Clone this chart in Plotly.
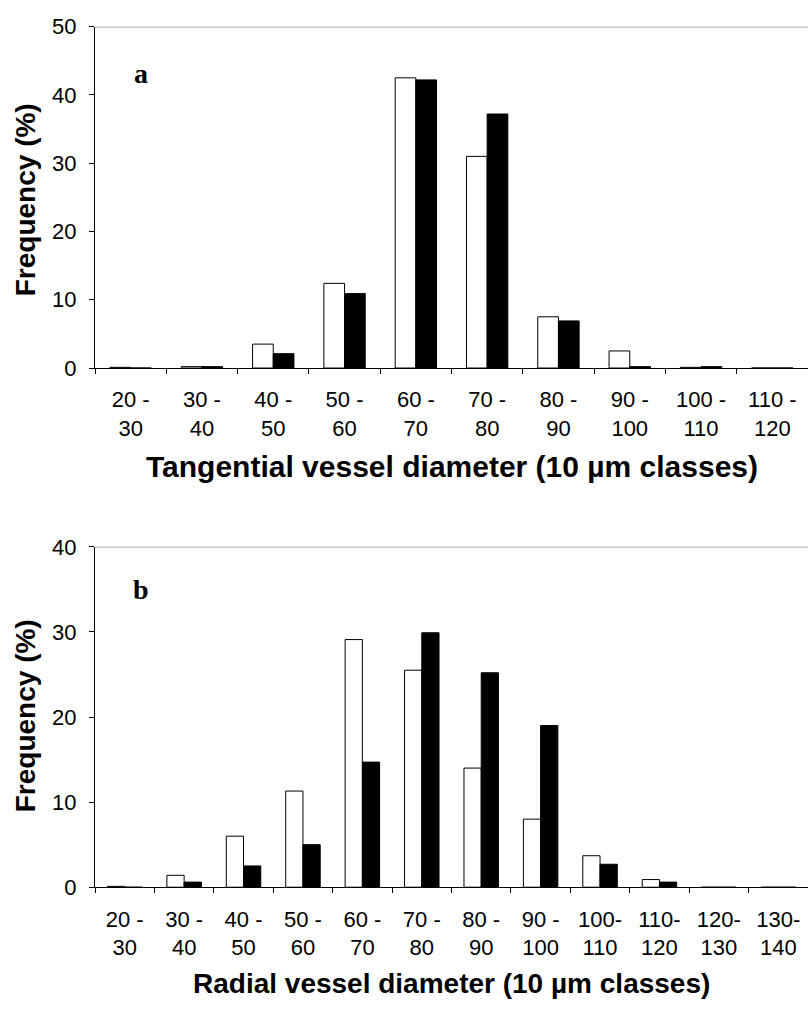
import plotly.graph_objects as go

W, H = 808, 1016

# Panel a: tangential vessel diameter
cats_a = ["20 -<br>30", "30 -<br>40", "40 -<br>50", "50 -<br>60", "60 -<br>70",
          "70 -<br>80", "80 -<br>90", "90 -<br>100", "100 -<br>110", "110 -<br>120"]
white_a = [0.1, 0.2, 3.5, 12.4, 42.5, 31.0, 7.5, 2.5, 0.1, 0.0]
black_a = [0.0, 0.2, 2.1, 10.9, 42.2, 37.2, 6.9, 0.2, 0.2, 0.0]

# Panel b: radial vessel diameter
cats_b = ["20 -<br>30", "30 -<br>40", "40 -<br>50", "50 -<br>60", "60 -<br>70",
          "70 -<br>80", "80 -<br>90", "90 -<br>100", "100-<br>110", "110-<br>120",
          "120-<br>130", "130-<br>140"]
white_b = [0.1, 1.4, 6.0, 11.3, 29.1, 25.5, 14.0, 8.0, 3.7, 0.9, 0.0, 0.0]
black_b = [0.0, 0.6, 2.5, 5.0, 14.7, 29.9, 25.2, 19.0, 2.7, 0.6, 0.0, 0.0]

fig = go.Figure()

def px_y(p):
    return 1 - p / H

x0 = 95 / W

fig.add_trace(go.Bar(x=list(range(len(cats_a))), y=white_a, marker=dict(color="white", line=dict(color="black", width=1)),
                     xaxis="x", yaxis="y", showlegend=False))
fig.add_trace(go.Bar(x=list(range(len(cats_a))), y=black_a, marker=dict(color="black", line=dict(color="black", width=1)),
                     xaxis="x", yaxis="y", showlegend=False))
fig.add_trace(go.Bar(x=list(range(len(cats_b))), y=white_b, marker=dict(color="white", line=dict(color="black", width=1)),
                     xaxis="x2", yaxis="y2", showlegend=False))
fig.add_trace(go.Bar(x=list(range(len(cats_b))), y=black_b, marker=dict(color="black", line=dict(color="black", width=1)),
                     xaxis="x2", yaxis="y2", showlegend=False))

tickfont = dict(family="Liberation Sans, Arial", size=22, color="black")
titlefont = dict(family="Liberation Sans, Arial", size=28, color="black")

common_x = dict(showline=True, linecolor="black", linewidth=1, ticks="", ticklabelstandoff=12,
                tickfont=tickfont, showgrid=False, zeroline=False)
common_y = dict(showline=True, linecolor="black", linewidth=1, ticks="outside", ticklen=5,
                tickcolor="black", tickfont=tickfont, showgrid=False, zeroline=False, dtick=10,
                ticklabelstandoff=8)

fig.update_layout(
    width=W, height=H, margin=dict(l=0, r=0, t=0, b=0),
    plot_bgcolor="white", paper_bgcolor="white",
    barmode="group", bargap=0.42, bargroupgap=0,
    xaxis=dict(common_x, domain=[x0, 1], anchor="y", range=[-0.5, len(cats_a) - 0.5],
               tickmode="array", tickvals=list(range(len(cats_a))), ticktext=cats_a,
               minor=dict(ticks="outside", ticklen=5, tickcolor="black", tickmode="array",
                          tickvals=[i - 0.5 for i in range(len(cats_a))])),
    yaxis=dict(common_y, domain=[px_y(365), px_y(15)], anchor="x", range=[0, 50]),
    xaxis2=dict(common_x, domain=[x0, 1], anchor="y2", range=[-0.5, len(cats_b) - 0.5],
                tickmode="array", tickvals=list(range(len(cats_b))), ticktext=cats_b,
                minor=dict(ticks="outside", ticklen=5, tickcolor="black", tickmode="array",
                           tickvals=[i - 0.5 for i in range(len(cats_b))])),
    yaxis2=dict(common_y, domain=[px_y(897.3), px_y(548.3)], anchor="x2", range=[0, 40]),
)

# grey top border lines
for xr, yr, top in (("x domain", "y", 50), ("x2 domain", "y2", 40)):
    fig.add_shape(type="line", xref=xr, yref=yr, x0=0, x1=1, y0=top, y1=top,
                  line=dict(color="#999999", width=1.5))

ann = [
    dict(text="<b>Frequency (%)</b>", x=25 / W, y=px_y(193), textangle=-90, size=28),
    dict(text="<b>Frequency (%)</b>", x=25 / W, y=px_y(722), textangle=-90, size=28),
    dict(text="<b>Tangential vessel diameter (10 µm classes)</b>", x=(95 + 808) / 2 / W, y=px_y(466), size=30),
    dict(text="<b>Radial vessel diameter (10 µm classes)</b>", x=(95 + 808) / 2 / W, y=px_y(996), size=28),
]
for a in ann:
    size = a.pop("size")
    fig.add_annotation(xref="paper", yref="paper", showarrow=False, font=dict(titlefont, size=size),
                       xanchor="center", yanchor="middle", **a)

for t, yy in (("a", 63), ("b", 592)):
    fig.add_annotation(xref="paper", yref="paper", showarrow=False, x=141 / W, y=px_y(yy),
                       text="<b>%s</b>" % t, xanchor="center", yanchor="middle",
                       font=dict(family="Liberation Serif, Times New Roman", size=28, color="black"))

fig.write_html("out.html")
